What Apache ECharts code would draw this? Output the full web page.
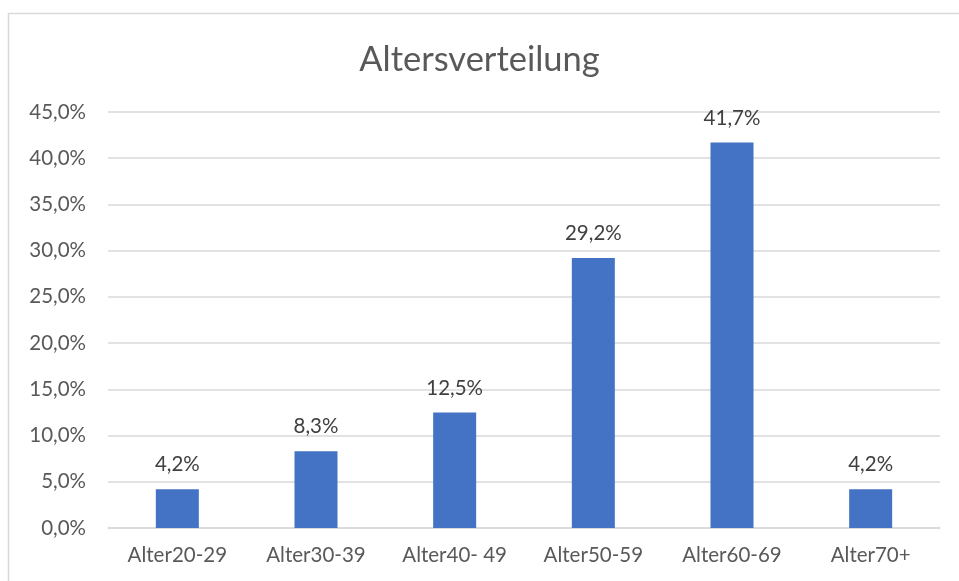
<!DOCTYPE html>
<html>
<head>
<meta charset="utf-8">
<script src="https://cdn.jsdelivr.net/npm/echarts@6/dist/echarts.min.js"></script>
<style>
  html, body { margin: 0; padding: 0; background: #fff; }
  #chart { width: 959px; height: 581px; }
</style>
</head>
<body>
<div id="chart"></div>
<script>
// Age groups and their share in percent
const categories = ['Alter20-29', 'Alter30-39', 'Alter40- 49', 'Alter50-59', 'Alter60-69', 'Alter70+'];
const shares = [4.2, 8.3, 12.5, 29.2, 41.7, 4.2];
const axisMax = 45;
const axisStep = 5;

const FONT = 'Lato, "Open Sans", sans-serif';
const pct = v => v.toFixed(1).replace('.', ',') + '%';

const chart = echarts.init(document.getElementById('chart'), null, { renderer: 'canvas' });
chart.setOption({
  backgroundColor: '#ffffff',
  animation: false,
  title: {
    text: 'Altersverteilung',
    left: 'center',
    top: 37,
    textStyle: { fontFamily: FONT, fontSize: 34.5, fontWeight: 'normal', color: '#595959' }
  },
  graphic: [{
    type: 'rect',
    shape: { x: 8.5, y: 13.5, width: 1000, height: 700 },
    style: { fill: 'none', stroke: '#d9d9d9', lineWidth: 1.5 },
    silent: true
  }],
  grid: { left: 108, right: 19, top: 112, bottom: 53, containLabel: false },
  xAxis: {
    type: 'category',
    data: categories,
    axisTick: { show: false },
    axisLine: { lineStyle: { color: '#d9d9d9', width: 1.5 } },
    axisLabel: { color: '#595959', fontFamily: FONT, fontSize: 20.5, margin: 17 }
  },
  yAxis: {
    type: 'value',
    min: 0,
    max: axisMax,
    interval: axisStep,
    axisLine: { show: false },
    axisTick: { show: false },
    splitLine: { lineStyle: { color: '#d9d9d9', width: 1.5 } },
    axisLabel: { color: '#595959', fontFamily: FONT, fontSize: 20.5, margin: 22, formatter: v => pct(v) }
  },
  series: [{
    type: 'bar',
    data: shares,
    barWidth: 43,
    itemStyle: { color: '#4472c4' },
    label: {
      show: true,
      position: 'top',
      distance: 14,
      color: '#404040',
      fontFamily: FONT,
      fontSize: 20.5,
      formatter: p => pct(p.value)
    }
  }]
});
</script>
</body>
</html>
